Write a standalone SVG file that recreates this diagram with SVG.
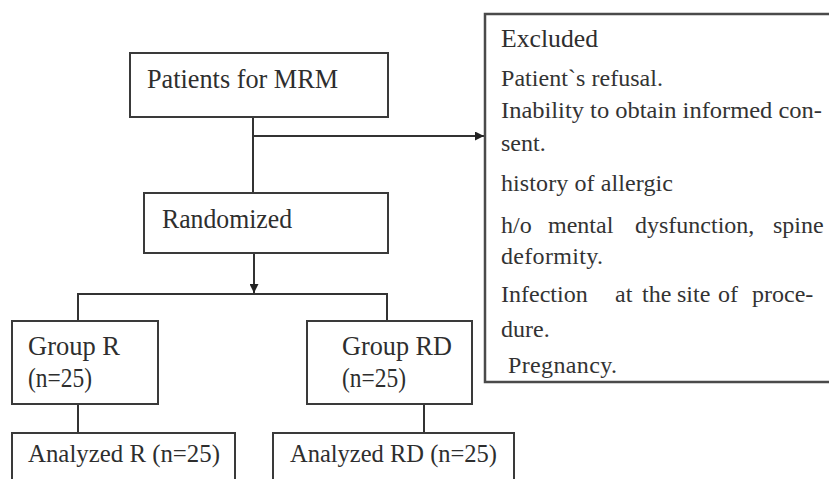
<svg xmlns="http://www.w3.org/2000/svg" width="829" height="479" viewBox="0 0 829 479">
<style>
.box{fill:#fff;stroke:#3a3a3a;stroke-width:2}
.ex{fill:#fff;stroke:#4a4a4a;stroke-width:2.5}
.lbl{font-family:"Liberation Serif","Times New Roman",serif;font-size:28px;fill:#2e2e2e}
.mid{font-family:"Liberation Serif","Times New Roman",serif;font-size:26px;fill:#2e2e2e}
.sm{font-family:"Liberation Serif","Times New Roman",serif;font-size:24px;fill:#333}
.con{fill:none;stroke:#333;stroke-width:2}
</style>
<defs>
<marker id="arr" viewBox="0 0 10 10" refX="10" refY="5" markerWidth="9" markerHeight="9" markerUnits="userSpaceOnUse" orient="auto">
<path d="M0,0 L10,5 L0,10 Z" fill="#222"/>
</marker>
</defs>
<rect width="829" height="479" fill="#fff"/>
<g id="connectors">
<path class="con" d="M253,110 V193"/>
<path class="con" d="M253,136 H484" marker-end="url(#arr)"/>
<path class="con" d="M254,237 V293" marker-end="url(#arr)"/>
<path class="con" d="M78,321 V294 H387 V321"/>
<path class="con" d="M78,404 V433"/>
<path class="con" d="M424,404 V433"/>
</g>
<g id="patients">
<rect class="box" x="130" y="53" width="258" height="64"/>
<text class="lbl" x="147" y="88" textLength="191" lengthAdjust="spacingAndGlyphs">Patients for MRM</text>
</g>
<g id="randomized">
<rect class="box" x="144" y="193" width="244" height="60"/>
<text class="lbl" x="162" y="228" textLength="130" lengthAdjust="spacingAndGlyphs">Randomized</text>
</g>
<g id="groupR">
<rect class="box" x="12" y="321" width="146" height="83"/>
<text class="lbl" x="28" y="355" textLength="92" lengthAdjust="spacingAndGlyphs">Group R</text>
<text class="lbl" x="28" y="387" textLength="64" lengthAdjust="spacingAndGlyphs">(n=25)</text>
</g>
<g id="groupRD">
<rect class="box" x="307" y="321" width="165" height="83"/>
<text class="lbl" x="342" y="355" textLength="110" lengthAdjust="spacingAndGlyphs">Group RD</text>
<text class="lbl" x="342" y="387" textLength="64" lengthAdjust="spacingAndGlyphs">(n=25)</text>
</g>
<g id="analyzedR">
<rect class="box" x="12" y="433" width="223" height="60"/>
<text class="mid" x="28" y="462" textLength="192" lengthAdjust="spacingAndGlyphs">Analyzed R (n=25)</text>
</g>
<g id="analyzedRD">
<rect class="box" x="273" y="433" width="241" height="60"/>
<text class="mid" x="290" y="462" textLength="207" lengthAdjust="spacingAndGlyphs">Analyzed RD (n=25)</text>
</g>
<g id="excluded">
<rect class="ex" x="485" y="14" width="360" height="368"/>
<text class="mid" x="501" y="47" textLength="97" lengthAdjust="spacingAndGlyphs">Excluded</text>
<text class="sm" x="501" y="86" textLength="162">Patient`s refusal.</text>
<text class="sm" x="501" y="118" textLength="321" lengthAdjust="spacingAndGlyphs">Inability to obtain informed con-</text>
<text class="sm" x="501" y="151">sent.</text>
<text class="sm" x="501" y="191" textLength="172">history of allergic</text>
<text class="sm" y="233"><tspan x="501">h/o</tspan><tspan x="548">mental</tspan><tspan x="635">dysfunction,</tspan><tspan x="773">spine</tspan></text>
<text class="sm" x="501" y="264" textLength="102">deformity.</text>
<text class="sm" y="302"><tspan x="501">Infection</tspan><tspan x="615">at</tspan><tspan x="642">the</tspan><tspan x="677">site</tspan><tspan x="718">of</tspan><tspan x="752">proce-</tspan></text>
<text class="sm" x="501" y="337">dure.</text>
<text class="sm" x="508" y="373" textLength="109">Pregnancy.</text>
</g>
</svg>
